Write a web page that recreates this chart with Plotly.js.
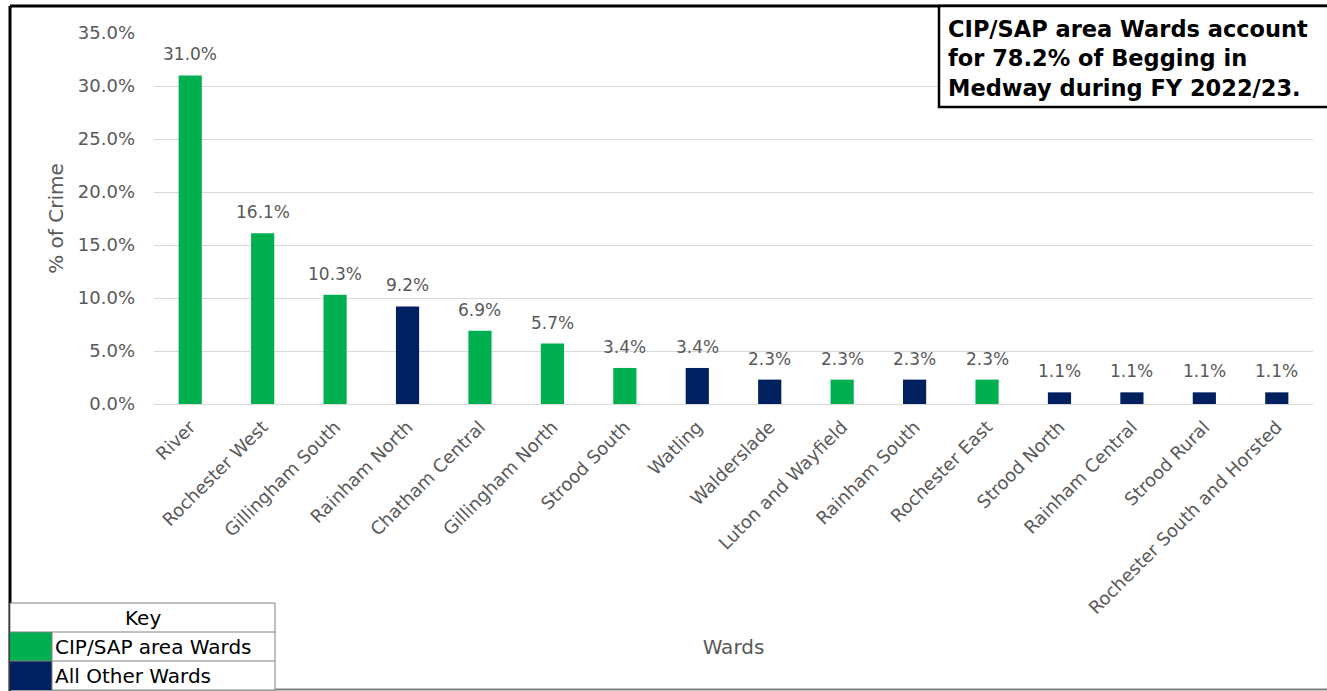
<!DOCTYPE html>
<html>
<head>
<meta charset="utf-8">
<script src="https://cdn.plot.ly/plotly-3.0.1.min.js"></script>
<style>
html,body{margin:0;padding:0;background:#fff;}
#chart{width:1327px;height:691px;}
</style>
</head>
<body>
<div id="chart"></div>
<script>
const wards = ["River","Rochester West","Gillingham South","Rainham North","Chatham Central","Gillingham North","Strood South","Watling","Walderslade","Luton and Wayfield","Rainham South","Rochester East","Strood North","Rainham Central","Strood Rural","Rochester South and Horsted"];
const pctCrime = [31.0,16.1,10.3,9.2,6.9,5.7,3.4,3.4,2.3,2.3,2.3,2.3,1.1,1.1,1.1,1.1];
const isCipSap = [true,true,true,false,true,true,true,false,false,true,false,true,false,false,false,false];
const yTicks = [0,5,10,15,20,25,30,35];
const keyLabels = ["Key","CIP/SAP area Wards","All Other Wards"];
const noteText = "CIP/SAP area Wards account<br>for 78.2% of Begging in<br>Medway during FY 2022/23.";

const GREEN = "#00B050", NAVY = "#002060", GREY = "#595959";
const W = 1327, H = 691;
const L = 154, R = 14, T = 33, B = 287;
const pw = W - L - R, ph = H - T - B;
const px = x => (x - L) / pw;
const py = y => (H - B - y) / ph;

const trace = {
  type: "bar",
  x: wards,
  y: pctCrime,
  marker: {color: isCipSap.map(c => c ? GREEN : NAVY)},
  hoverinfo: "x+y",
  showlegend: false
};

const shapes = [];
const annotations = [];

// data labels
wards.forEach((w, i) => {
  annotations.push({xref:"x", yref:"y", x:w, y:pctCrime[i], xanchor:"center", yanchor:"bottom", yshift:9, showarrow:false,
    text: pctCrime[i].toFixed(1) + "%", font:{family:"DejaVu Sans", size:17, color:GREY}});
});

// outer frame
shapes.push({type:"line", xref:"paper", yref:"paper", x0:px(10), x1:px(W+5), y0:py(6), y1:py(6), line:{color:"#000", width:3}});
shapes.push({type:"line", xref:"paper", yref:"paper", x0:px(10), x1:px(10), y0:py(6), y1:py(H+5), line:{color:"#000", width:3}});
shapes.push({type:"line", xref:"paper", yref:"paper", x0:px(10), x1:px(W+5), y0:py(689.5), y1:py(689.5), line:{color:"#7f7f7f", width:2}});

// note box
shapes.push({type:"rect", xref:"paper", yref:"paper", x0:px(939), x1:px(W+10), y0:py(6), y1:py(107), line:{color:"#000", width:2.5}, fillcolor:"#fff"});
annotations.push({xref:"paper", yref:"paper", x:px(946), y:py(14), xanchor:"left", yanchor:"top", align:"left", showarrow:false,
  text:"<b>"+noteText+"</b>", font:{family:"DejaVu Sans", size:22.5, color:"#000"}});

// key table
const kx0 = 10, kx1 = 275, ksw = 52;
const rows = [603, 632, 661, 690];
shapes.push({type:"rect", xref:"paper", yref:"paper", x0:px(kx0), x1:px(kx1), y0:py(rows[0]), y1:py(rows[3]), line:{color:"#808080", width:1}, fillcolor:"#fff"});
[GREEN, NAVY].forEach((c, i) => {
  shapes.push({type:"rect", xref:"paper", yref:"paper", x0:px(kx0), x1:px(ksw), y0:py(rows[i+1]), y1:py(rows[i+2]), line:{width:0}, fillcolor:c});
});
for (let i = 1; i < 3; i++) {
  shapes.push({type:"line", xref:"paper", yref:"paper", x0:px(kx0), x1:px(kx1), y0:py(rows[i]), y1:py(rows[i]), line:{color:"#808080", width:1}});
}
shapes.push({type:"line", xref:"paper", yref:"paper", x0:px(ksw), x1:px(ksw), y0:py(rows[1]), y1:py(rows[3]), line:{color:"#808080", width:1}});
annotations.push({xref:"paper", yref:"paper", x:px((kx0+kx1)/2), y:py((rows[0]+rows[1])/2), xanchor:"center", yanchor:"middle", showarrow:false,
  text:keyLabels[0], font:{family:"DejaVu Sans", size:20, color:"#000"}});
for (let i = 1; i < 3; i++) {
  annotations.push({xref:"paper", yref:"paper", x:px(ksw+1), y:py((rows[i]+rows[i+1])/2), xanchor:"left", yanchor:"middle", showarrow:false,
    text:keyLabels[i], font:{family:"DejaVu Sans", size:20, color:"#000"}});
}

const layout = {
  width: W, height: H,
  margin: {l: L, r: R, t: T, b: B, pad: 0},
  paper_bgcolor: "#fff", plot_bgcolor: "#fff",
  bargap: 0.68,
  font: {family: "DejaVu Sans", color: GREY},
  xaxis: {
    type: "category",
    tickangle: -45,
    tickfont: {family: "DejaVu Sans", size: 18, color: GREY},
    ticklabelstandoff: 8,
    showgrid: false, zeroline: false,
    showline: false, ticks: "",
    title: {text: "Wards", font: {family: "DejaVu Sans", size: 20, color: GREY}, standoff: 22},
    automargin: false
  },
  yaxis: {
    range: [0, 35],
    tickvals: yTicks,
    ticktext: yTicks.map(v => v.toFixed(1) + "%"),
    tickfont: {family: "DejaVu Sans", size: 18, color: GREY},
    showgrid: true, gridcolor: "#D9D9D9", gridwidth: 1,
    zeroline: true, zerolinecolor: "#D9D9D9", zerolinewidth: 1,
    showline: false, ticks: "",
    ticklabelstandoff: 18,
    title: {text: "% of Crime", font: {family: "DejaVu Sans", size: 20, color: GREY}, standoff: 8},
    automargin: false
  },
  shapes: shapes,
  annotations: annotations
};

Plotly.newPlot("chart", [trace], layout, {displayModeBar: false});
</script>
</body>
</html>
